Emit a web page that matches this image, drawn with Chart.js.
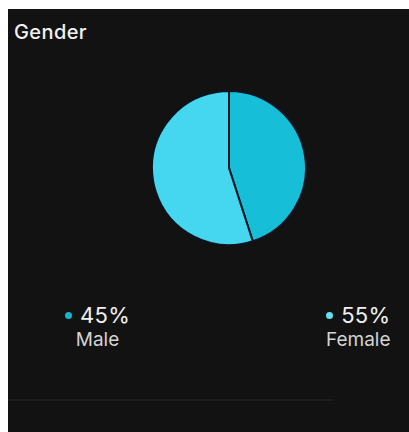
<!DOCTYPE html>
<html><head><meta charset="utf-8">
<script src="https://cdn.jsdelivr.net/npm/chart.js@4"></script>
<style>
html,body{margin:0;padding:0;background:#fff;width:409px;height:432px;overflow:hidden;font-family:Inter,"Liberation Sans",sans-serif;}
#panel{position:absolute;left:8px;top:9px;width:401px;height:423px;background:#121212;}
#title{position:absolute;left:6px;top:11px;font-size:20px;font-weight:500;color:#f2f2f2;letter-spacing:0.4px;}
#pieBox{position:absolute;left:143px;top:81px;width:156px;height:156px;}
.leg{position:absolute;top:293px;display:flex;flex-direction:column;align-items:center;}
.row{display:flex;align-items:center;}
.dot{width:7px;height:7px;border-radius:50%;margin-right:8px;}
.val{font-size:22px;color:#f0f0f0;line-height:27px;letter-spacing:0.3px;}
.name{font-size:19px;color:#d4d4d4;line-height:22px;margin-top:0px;}
#rule{position:absolute;left:0;top:390px;width:325px;height:2px;background:#1d1d1d;}
</style></head>
<body>
<div id="panel">
  <div id="title">Gender</div>
  <div id="pieBox"><canvas id="c"></canvas></div>
  <div id="legends"></div>
  <div id="rule"></div>
</div>
<script>
const categories = ["Male", "Female"];
const values = [45, 55];
const valueLabels = ["45%", "55%"];
const sliceColors = ["#17bed8", "#45d6f0"];
const dotColors = ["#14b4cc", "#62e0f0"];
const legendLeft = [57, 318];

new Chart(document.getElementById('c'), {
  type: 'pie',
  data: { labels: categories, datasets: [{ data: values, backgroundColor: sliceColors, borderColor: '#0f1420', borderWidth: 2, hoverOffset: 0 }] },
  options: {
    responsive: true, maintainAspectRatio: false, animation: false,
    events: [],
    plugins: { legend: { display: false }, tooltip: { enabled: false } },
    layout: { padding: 0 }
  }
});

const lg = document.getElementById('legends');
categories.forEach((c, i) => {
  const d = document.createElement('div');
  d.className = 'leg';
  d.style.left = legendLeft[i] + 'px';
  d.innerHTML = '<div class="row"><span class="dot" style="background:' + dotColors[i] + '"></span><span class="val">' + valueLabels[i] + '</span></div><div class="name">' + c + '</div>';
  lg.appendChild(d);
});
</script>
</body></html>
